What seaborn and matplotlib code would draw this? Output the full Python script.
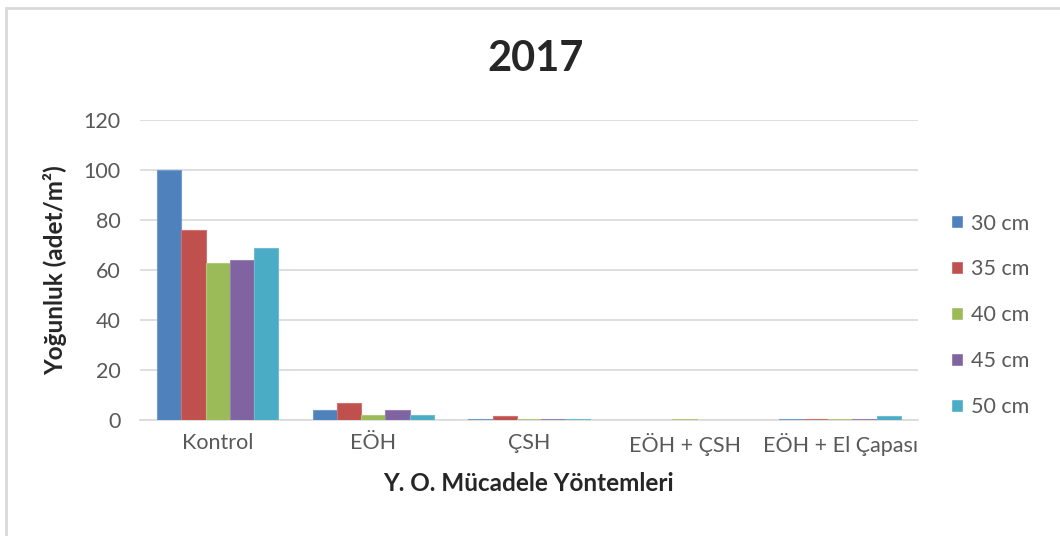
import pandas as pd
import matplotlib
matplotlib.use("Agg")
import matplotlib.pyplot as plt
import matplotlib.colors as mcolors
import seaborn as sns
from matplotlib.patches import Rectangle

# Data
methods = ["Kontrol", "EÖH", "ÇSH", "EÖH + ÇSH", "EÖH + El Çapası"]
sizes = ["30 cm", "35 cm", "40 cm", "45 cm", "50 cm"]
v30 = [100, 4, 0.5, 0, 0.5]
v35 = [76, 7, 1.5, 0, 0.5]
v40 = [63, 2, 0.5, 0.6, 0.5]
v45 = [64, 4, 0.5, 0, 0.5]
v50 = [69, 2, 0.5, 0, 1.6]
colors = ["#4F81BD", "#C0504D", "#9BBB59", "#8064A2", "#4BACC6"]

rows = []
for size, vals in zip(sizes, [v30, v35, v40, v45, v50]):
    for m, v in zip(methods, vals):
        rows.append({"method": m, "size": size, "value": v})
df = pd.DataFrame(rows)

sns.set_style("white")
plt.rcParams["font.family"] = ["Lato", "DejaVu Sans"]

fig = plt.figure(figsize=(10.6, 5.36), dpi=100)
ax = fig.add_axes([0.132, 0.2164, 0.734, 0.5597])

sns.barplot(data=df, x="method", y="value", hue="size", order=methods,
            hue_order=sizes, palette=colors, saturation=1, width=0.78,
            errorbar=None, ax=ax)

# slightly lighter outline like the Excel bars, drawn above the axis line
for cont, col in zip(ax.containers, colors):
    rgb = mcolors.to_rgb(col)
    light = tuple(c + (1 - c) * 0.2 for c in rgb)
    for bar in cont:
        bar.set_zorder(3)
        if bar.get_height() > 0:
            bar.set_edgecolor(light)
            bar.set_linewidth(0.8)
        else:
            bar.set_linewidth(0)

ax.set_ylim(0, 120)
ax.set_yticks(range(0, 121, 20))
ax.yaxis.grid(True, color="#D9D9D9", linewidth=1.2)
ax.set_axisbelow(True)
for s in ["top", "right", "left"]:
    ax.spines[s].set_visible(False)
ax.spines["bottom"].set_color("#D9D9D9")
ax.spines["bottom"].set_linewidth(1.2)
ax.spines["bottom"].set_zorder(0.5)
ax.tick_params(axis="both", length=0, labelsize=15.5, labelcolor="#595959")
ax.tick_params(axis="y", pad=14)
ax.tick_params(axis="x", pad=9)

ax.set_xlabel("Y. O. Mücadele Yöntemleri", fontsize=17.5, fontweight="bold", labelpad=12)
ax.set_ylabel("Yoğunluk (adet/m²)", fontsize=17.5, fontweight="bold", labelpad=12)
fig.text(0.505, 0.89, "2017", ha="center", va="center", fontsize=30, fontweight="bold")

handles, labels = ax.get_legend_handles_labels()
ax.legend_.remove()
leg = fig.legend(handles, labels, loc="center left", bbox_to_anchor=(0.897, 0.412),
                 frameon=False, fontsize=15.5, labelspacing=1.2, handlelength=0.55,
                 handleheight=0.55, handletextpad=0.4, labelcolor="#595959",
                 borderpad=0, borderaxespad=0)

fig.patches.append(Rectangle((6 / 1060, -0.1), 1.2, 1 - 8 / 536 + 0.1,
                             transform=fig.transFigure, fill=False,
                             edgecolor="#D9D9D9", linewidth=2))

fig.savefig("out.png", dpi=100)
